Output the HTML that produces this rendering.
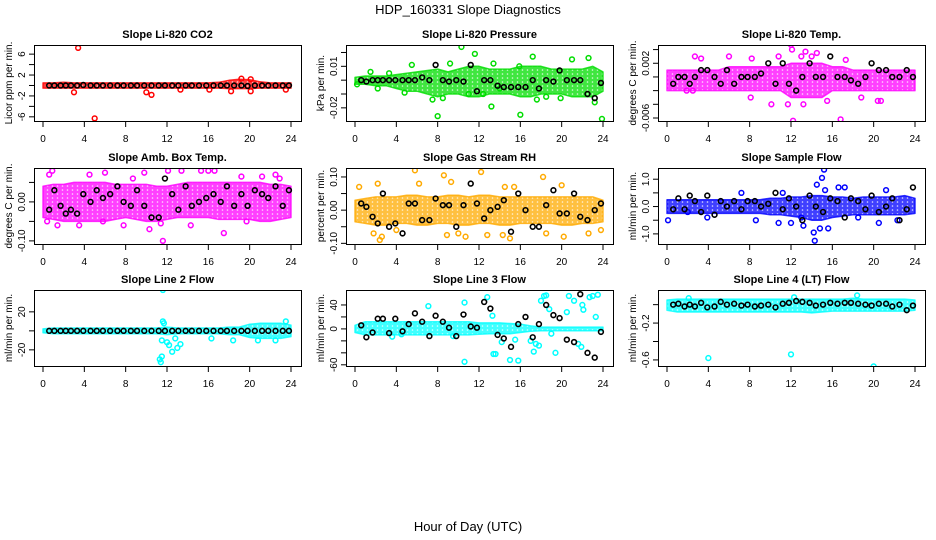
<!DOCTYPE html>
<html><head><meta charset="utf-8">
<style>
html,body{margin:0;padding:0;background:#fff;}
svg{display:block;font-family:"Liberation Sans",Arial,sans-serif;}
</style></head>
<body>
<svg id="chart" width="936" height="540" viewBox="0 0 936 540">
<text x="468" y="14" text-anchor="middle" font-size="13">HDP_160331  Slope Diagnostics</text>
<text x="468" y="531" text-anchor="middle" font-size="13">Hour of Day (UTC)</text>
</svg>
<script>
const hours = [0,1,2,3,4,5,6,7,8,9,10,11,12,13,14,15,16,17,18,19,20,21,22,23,24];
const xTicks = [0,4,8,12,16,20,24];
const blkX = [0.6,1.1,1.7,2.2,2.7,3.3,3.9,4.6,5.2,5.8,6.5,7.2,7.8,8.5,9.1,9.8,10.5,11.2,11.8,12.5,13.1,13.8,14.4,15.1,15.8,16.5,17.2,17.8,18.5,19.2,19.8,20.5,21.2,21.8,22.5,23.2,23.8];

// Panel 1: CO2
const p1BandLo = [-0.5,-0.5,-0.5,-0.5,-0.5,-0.5,-0.5,-0.5,-0.5,-0.5,-0.5,-0.5,-0.5,-0.5,-0.5,-0.5,-0.5,-0.5,-0.6,-0.6,-0.6,-0.5,-0.5,-0.5,-0.5];
const p1BandHi = [0.5,0.5,0.6,0.5,0.5,0.5,0.5,0.5,0.5,0.5,0.5,0.5,0.5,0.5,0.5,0.5,0.5,0.6,1.0,1.2,1.1,0.7,0.5,0.5,0.5];
const p1OutX = [3.4,5.0,3.0,10.0,10.5,18.2,20.1,19.2,20.1,23.5,16.1,13.3];
const p1OutY = [7.2,-6.3,-1.3,-1.3,-1.8,-1.1,-1.1,1.3,1.2,-0.8,-0.8,-0.8];
const p1Blk = [0,0,0,0,0,0,0.1,0,0,0,0,0,0,0,0,0,0,0,0,0,0,0,0,0,0,0,0,0,0,0,-0.1,0,0,0,0,0,0];
const p1YTicks = [-6,-4,-2,0,2,4,6];
const p1YLabels = ['-6','','-2','','2','','6'];

// Panel 2: Pressure
const p2BandLo = [-0.003,-0.003,-0.004,-0.004,-0.006,-0.008,-0.008,-0.01,-0.012,-0.01,-0.01,-0.012,-0.012,-0.01,-0.01,-0.01,-0.012,-0.012,-0.01,-0.01,-0.01,-0.012,-0.012,-0.012,-0.008];
const p2BandHi = [0.002,0.003,0.003,0.003,0.004,0.005,0.006,0.007,0.008,0.006,0.008,0.01,0.01,0.008,0.008,0.008,0.01,0.01,0.01,0.008,0.008,0.008,0.008,0.01,0.006];
const p2OutX = [0.2,1.5,2.2,3.3,4.8,5.5,7.5,8.0,8.5,9.2,10.3,11.0,11.6,12.4,13.2,13.4,14.0,15.9,16.0,17.2,17.6,18.5,19.9,21.0,22.6,23.2,23.9];
const p2OutY = [-0.003,0.006,-0.006,0.005,-0.009,0.011,-0.014,-0.026,-0.013,0.012,0.024,-0.01,0.019,-0.01,-0.019,0.012,-0.006,0.01,-0.025,0.017,-0.014,-0.012,-0.013,0.015,0.016,-0.016,-0.028];
const p2Blk = [0,-0.001,0,0,0,0,0,0,0,0,0.002,0,0.011,0,-0.001,0,-0.001,0.011,-0.008,0,0,-0.004,-0.005,-0.005,-0.005,-0.005,0,-0.006,0,-0.001,0.007,0,0,0,-0.01,-0.013,-0.002];
const p2YTicks = [-0.02,-0.01,0,0.01,0.02];
const p2YLabels = ['-0.02','','','0.01',''];

// Panel 3: Li-820 Temp
const p3BandLo = [-0.002,-0.002,-0.002,-0.002,-0.002,-0.002,-0.002,-0.002,-0.002,-0.002,-0.002,-0.002,-0.003,-0.003,-0.003,-0.003,-0.002,-0.002,-0.002,-0.002,-0.002,-0.002,-0.002,-0.002,-0.002];
const p3BandHi = [0.001,0.001,0.001,0.001,0.001,0.001,0.0015,0.0015,0.0015,0.0015,0.0015,0.0015,0.002,0.002,0.002,0.002,0.0015,0.0015,0.001,0.001,0.001,0.001,0.001,0.001,0.001];
const p3OutX = [2.7,3.3,2.5,1.9,8.2,8.1,10.1,10.8,11.7,12.0,12.1,12.2,13.0,13.2,13.4,14.5,15.5,16.8,17.3,18.8,20.4,20.7,6.0,14.0];
const p3OutY = [0.003,0.0027,-0.002,-0.002,0.0027,-0.003,-0.004,0.003,-0.004,0.0047,0.004,-0.0064,0.003,-0.004,0.0037,0.0035,-0.0035,-0.0062,0.0025,-0.003,-0.0035,-0.0035,0.003,0.003];
const p3Blk = [-0.001,0,0,-0.001,0,0.001,0.001,0,-0.001,0.001,-0.001,0,0,0,0.0005,0.002,-0.001,0.002,-0.001,-0.002,0,0.002,0,0,0.003,0,0,-0.0005,-0.001,0,0.002,0.001,0.001,0,0,0.001,0];
const p3YTicks = [-0.006,-0.004,-0.002,0,0.002,0.004];
const p3YLabels = ['-0.006','','','','0.002',''];

// Panel 4: Amb Box Temp
const p4BandLo = [-0.04,-0.045,-0.05,-0.05,-0.05,-0.05,-0.05,-0.045,-0.04,-0.045,-0.05,-0.05,-0.045,-0.04,-0.04,-0.04,-0.04,-0.045,-0.045,-0.045,-0.045,-0.05,-0.05,-0.045,-0.04];
const p4BandHi = [0.04,0.045,0.045,0.05,0.05,0.05,0.05,0.045,0.045,0.045,0.045,0.04,0.04,0.045,0.05,0.05,0.05,0.05,0.05,0.05,0.05,0.05,0.045,0.045,0.04];
const p4OutX = [0.6,0.9,1.4,4.5,6.0,7.8,8.7,9.8,10.3,11.6,11.4,13.4,14.3,15.3,16.0,16.6,17.5,19.2,19.7,21.2,22.5,22.9,0.4,3.5,5.8,12.1];
const p4OutY = [0.07,0.08,-0.06,0.07,0.075,-0.06,0.06,0.075,-0.07,-0.1,-0.055,0.08,-0.06,0.08,0.08,0.08,-0.08,0.065,-0.05,0.065,0.07,0.06,-0.05,-0.06,-0.05,0.08];
const p4Blk = [-0.02,0.03,-0.01,-0.03,-0.02,-0.03,0.02,0.00,0.03,0.01,0.02,0.04,0.0,-0.01,0.03,-0.01,-0.04,-0.04,0.06,0.02,-0.02,0.04,-0.01,0.0,0.01,0.02,0.0,0.04,-0.01,0.02,-0.01,0.03,0.02,0.01,0.04,-0.01,0.03];
const p4YTicks = [-0.1,-0.05,0,0.05];
const p4YLabels = ['-0.10','','0.00',''];

// Panel 5: Gas Stream RH
const p5BandLo = [-0.035,-0.04,-0.045,-0.045,-0.04,-0.04,-0.045,-0.045,-0.04,-0.04,-0.045,-0.045,-0.04,-0.04,-0.045,-0.045,-0.04,-0.04,-0.04,-0.04,-0.045,-0.045,-0.04,-0.04,-0.035];
const p5BandHi = [0.03,0.035,0.04,0.04,0.04,0.045,0.045,0.04,0.04,0.045,0.045,0.04,0.045,0.045,0.04,0.04,0.04,0.04,0.04,0.04,0.04,0.04,0.04,0.04,0.03];
const p5OutX = [0.4,1.8,2.2,2.4,2.6,4.0,5.8,6.2,8.6,8.9,10.0,10.7,12.2,12.8,14.3,15.0,15.4,18.2,18.5,20.0,20.2,22.6,23.8,9.3,14.5];
const p5OutY = [0.07,-0.07,0.08,-0.09,-0.08,-0.06,0.12,0.08,0.105,-0.075,-0.07,-0.08,0.115,-0.075,-0.075,-0.085,0.07,0.1,-0.07,0.075,-0.08,-0.07,-0.06,0.085,0.07];
const p5Blk = [0.02,0.01,-0.02,-0.04,0.05,-0.05,-0.04,-0.07,0.02,0.02,-0.03,-0.03,0.035,0.015,0.015,-0.05,0.015,0.08,0.02,-0.025,0.0,0.01,0.03,-0.065,0.05,0.0,-0.05,-0.05,0.015,0.06,-0.01,-0.01,0.05,-0.02,-0.03,0.0,0.02];
const p5YTicks = [-0.1,-0.05,0,0.05,0.1];
const p5YLabels = ['-0.10','','0.00','','0.10'];

// Panel 6: Sample Flow
const p6BandLo = [-0.25,-0.25,-0.25,-0.25,-0.25,-0.25,-0.25,-0.25,-0.25,-0.25,-0.3,-0.3,-0.35,-0.4,-0.5,-0.5,-0.4,-0.35,-0.3,-0.3,-0.3,-0.3,-0.3,-0.3,-0.25];
const p6BandHi = [0.25,0.25,0.25,0.25,0.25,0.25,0.25,0.25,0.25,0.25,0.3,0.3,0.35,0.35,0.4,0.4,0.35,0.35,0.3,0.35,0.35,0.35,0.35,0.4,0.3];
const p6OutX = [0.1,2.0,3.9,7.2,8.6,10.8,11.2,13.0,13.2,14.2,14.3,14.5,14.8,15.0,15.2,15.3,15.6,16.6,17.2,18.5,20.5,21.2,22.3,12.0];
const p6OutY = [-0.5,-0.2,-0.4,0.5,-0.5,-0.6,0.5,-0.4,-0.7,-0.95,-1.25,0.8,-0.8,1.05,1.35,0.6,-0.8,0.7,0.7,-0.4,-0.6,0.6,-0.5,-0.6];
const p6Blk = [-0.1,0.3,-0.1,0.4,0.2,-0.2,0.4,-0.3,0.2,0.0,0.2,-0.1,0.2,0.2,0.0,0.1,0.5,-0.1,0.3,0.0,-0.5,0.4,0.0,-0.2,0.3,0.2,-0.4,0.3,0.2,-0.1,0.4,-0.2,0.0,0.3,-0.5,-0.1,0.7];
const p6YTicks = [-1,-0.5,0,0.5,1];
const p6YLabels = ['-1.0','','0.0','','1.0'];

// Panel 7: Line 2 Flow
const p7BandLo = [-2,-3,-3,-3,-3,-3,-3,-3,-3,-3,-3,-3,-4,-3,-3,-3,-3,-3,-4,-4,-7,-8,-8,-8,-6];
const p7BandHi = [2,3,3,3,3,3,3,3,3,3,3,3,4,3,3,3,3,3,4,4,7,8,8,8,6];
const p7OutX = [11.3,11.4,11.5,11.6,11.7,12.0,12.2,12.5,12.8,13.0,13.3,11.5,11.6,18.4,20.8,22.5,23.5,16.3];
const p7OutY = [-30,-33,-27,43,8,-12,-15,-22,-8,-18,-14,-10,10,-10,-10,-10,10,-8];
const p7Blk = [0,0,0,0,0,0,0,0,0,0,0,0,0,0,0,0,0,0,0,0,0,0,0,0,0,0,0,0,0,0,0,0,0,0,0,0,0];
const p7YTicks = [-20,0,20];
const p7YLabels = ['-20','','20'];

// Panel 8: Line 3 Flow
const p8BandLo = [-6,-10,-10,-10,-10,-10,-10,-10,-10,-10,-10,-10,-9,-8,-8,-8,-6,-4,-3,-3,-3,-3,-3,-3,-3];
const p8BandHi = [6,12,12,12,12,12,12,12,12,12,12,12,10,10,10,9,8,5,3,3,3,3,3,3,3];
const p8OutX = [7.1,10.6,10.6,12.8,13.3,13.4,13.6,15.0,15.5,15.8,17.0,17.3,17.8,18.0,18.3,18.5,18.8,19.4,20.5,20.7,21.2,21.6,22.0,22.7,23.0,23.5,23.3,22.1,21.9,14.2,9.5,4.5,3.6,17.5,19.0];
const p8OutY = [38,-55,44,53,22,-42,-42,-52,-18,-53,-20,-38,-28,47,55,56,33,-40,28,55,47,-25,40,53,55,57,20,32,-30,-22,-12,-9,-13,-25,-8];
const p8Blk = [6,-14,-6,17,17,-7,17,-4,8,26,12,-12,22,12,2,-12,24,4,2,45,34,-10,-16,-30,8,20,-14,8,40,23,18,-18,-22,58,-40,-48,-5];
const p8YTicks = [-60,-40,-20,0,20,40];
const p8YLabels = ['-60','','','0','','40'];

// Panel 9: Line 4 (LT) Flow
const p9BandLo = [-0.06,-0.08,-0.08,-0.08,-0.08,-0.08,-0.08,-0.08,-0.08,-0.08,-0.08,-0.08,-0.08,-0.08,-0.09,-0.08,-0.07,-0.07,-0.07,-0.07,-0.07,-0.07,-0.07,-0.07,-0.06];
const p9BandHi = [0.05,0.06,0.06,0.06,0.06,0.06,0.06,0.06,0.06,0.06,0.06,0.06,0.06,0.06,0.06,0.06,0.06,0.06,0.07,0.06,0.06,0.06,0.06,0.06,0.05];
const p9OutX = [4.0,12.0,20.0,18.4,12.3,2.1];
const p9OutY = [-0.58,-0.54,-0.67,0.1,0.08,0.07];
const p9Blk = [0.0,0.01,-0.02,0.0,-0.02,0.02,-0.03,-0.02,0.03,0.0,0.01,-0.01,0.0,-0.02,-0.01,0.0,-0.03,0.01,0.02,0.04,0.03,0.02,-0.01,0.0,0.02,0.01,0.02,0.02,0.01,0.0,-0.01,0.01,0.01,-0.02,0.0,-0.06,-0.01];
const p9YTicks = [-0.6,-0.4,-0.2,0];
const p9YLabels = ['-0.6','','-0.2',''];

const NS = 'http://www.w3.org/2000/svg';
const svg = document.getElementById('chart');
function mk(tag, attrs, parent){
  const e = document.createElementNS(NS, tag);
  for (const k in attrs) e.setAttribute(k, attrs[k]);
  (parent||svg).appendChild(e);
  return e;
}
const colLeft = [34,346,658];
const rowTop = [45,168,290];
const W = 267, H = 76;

const defs = mk('defs', {});
const patIds = {};
function patternFor(col){
  if (patIds[col]) return patIds[col];
  const id = 'pat' + Object.keys(patIds).length;
  const pt = mk('pattern', {id:id, width:5, height:4, patternUnits:'userSpaceOnUse'}, defs);
  mk('rect', {x:0, y:0, width:5, height:4, fill:col, 'fill-opacity':'0.75'}, pt);
  mk('circle', {cx:2.5, cy:2, r:0.8, fill:'#fff', 'fill-opacity':'0.8'}, pt);
  patIds[col] = id;
  return id;
}

const panels = [
 {title:'Slope Li-820 CO2', ylab:'Licor ppm per min.', col:'#ff0000', ylim:[-6.8,7.75], lo:p1BandLo, hi:p1BandHi, ox:p1OutX, oy:p1OutY, bk:p1Blk, yt:p1YTicks, yl:p1YLabels, slug:'co2'},
 {title:'Slope Li-820 Pressure', ylab:'kPa per min.', col:'#00dd00', ylim:[-0.0295,0.0254], lo:p2BandLo, hi:p2BandHi, ox:p2OutX, oy:p2OutY, bk:p2Blk, yt:p2YTicks, yl:p2YLabels, slug:'pressure'},
 {title:'Slope Li-820 Temp.', ylab:'degrees C per min.', col:'#ff00ff', ylim:[-0.00644,0.00467], lo:p3BandLo, hi:p3BandHi, ox:p3OutX, oy:p3OutY, bk:p3Blk, yt:p3YTicks, yl:p3YLabels, slug:'li820-temp'},
 {title:'Slope Amb. Box Temp.', ylab:'degrees C per min.', col:'#ff00ff', ylim:[-0.108,0.087], lo:p4BandLo, hi:p4BandHi, ox:p4OutX, oy:p4OutY, bk:p4Blk, yt:p4YTicks, yl:p4YLabels, slug:'amb-box-temp'},
 {title:'Slope Gas Stream RH', ylab:'percent per min.', col:'#ffaa00', ylim:[-0.102,0.127], lo:p5BandLo, hi:p5BandHi, ox:p5OutX, oy:p5OutY, bk:p5Blk, yt:p5YTicks, yl:p5YLabels, slug:'gas-rh'},
 {title:'Slope Sample Flow', ylab:'ml/min per min.', col:'#0000ff', ylim:[-1.37,1.41], lo:p6BandLo, hi:p6BandHi, ox:p6OutX, oy:p6OutY, bk:p6Blk, yt:p6YTicks, yl:p6YLabels, slug:'sample-flow'},
 {title:'Slope Line 2 Flow', ylab:'ml/min per min.', col:'#00ffff', ylim:[-37,43], lo:p7BandLo, hi:p7BandHi, ox:p7OutX, oy:p7OutY, bk:p7Blk, yt:p7YTicks, yl:p7YLabels, slug:'line2-flow'},
 {title:'Slope Line 3 Flow', ylab:'ml/min per min.', col:'#00ffff', ylim:[-62,65], lo:p8BandLo, hi:p8BandHi, ox:p8OutX, oy:p8OutY, bk:p8Blk, yt:p8YTicks, yl:p8YLabels, slug:'line3-flow'},
 {title:'Slope Line 4 (LT) Flow', ylab:'ml/min per min.', col:'#00ffff', ylim:[-0.666,0.159], lo:p9BandLo, hi:p9BandHi, ox:p9OutX, oy:p9OutY, bk:p9Blk, yt:p9YTicks, yl:p9YLabels, slug:'line4-flow'}
];

panels.forEach((p, i) => {
  const L = colLeft[i%3], T = rowTop[Math.floor(i/3)];
  const g = mk('g', {});
  
  
  const sx = v => L + 9 + v/24*248;
  const sy = v => T + H - (v - p.ylim[0])/(p.ylim[1]-p.ylim[0])*H;
  const clip = 'clip' + i;
  const cp = mk('clipPath', {id:clip}, g);
  mk('rect', {x:L, y:T, width:W, height:H}, cp);
  const inner = mk('g', {'clip-path':'url(#'+clip+')'}, g);
  let d = '';
  hours.forEach((h,k)=>{ d += (k?'L':'M') + sx(h).toFixed(1) + ',' + sy(p.hi[k]).toFixed(1); });
  for (let k=hours.length-1;k>=0;k--) d += 'L' + sx(hours[k]).toFixed(1) + ',' + sy(p.lo[k]).toFixed(1);
  const pid = patternFor(p.col);
  const band = mk('path', {d:d+'Z', fill:'url(#'+pid+')', stroke:p.col, 'stroke-opacity':'0.8', 'stroke-width':'1.5', 'stroke-linejoin':'round'}, inner);
  
  
  p.ox.forEach((x,k)=>{
    const c = mk('circle', {cx:sx(x), cy:sy(p.oy[k]), r:2.4, fill:'none', stroke:p.col, 'stroke-width':1.5}, inner);
    
    
  });
  blkX.forEach((x,k)=>{
    const c = mk('circle', {cx:sx(x), cy:sy(p.bk[k]), r:2.4, fill:'none', stroke:'#000', 'stroke-width':1.6}, inner);
    
    
  });
  const box = mk('rect', {x:L+0.5, y:T+0.5, width:W, height:H, fill:'none', stroke:'#000', 'stroke-width':1}, g);
  
  
  const t = mk('text', {x:L+W/2, y:T-7, 'text-anchor':'middle', 'font-size':'11', 'font-weight':'bold'}, g);
  t.textContent = p.title;
  
  
  xTicks.forEach(v=>{
    mk('line', {x1:sx(v), x2:sx(v), y1:T+H+1, y2:T+H+6, stroke:'#000'}, g);
    const lt = mk('text', {x:sx(v), y:T+H+21, 'text-anchor':'middle', 'font-size':'10'}, g);
    lt.textContent = String(v);
    
    
  });
  p.yt.forEach((v,k)=>{
    mk('line', {x1:L, x2:L-5, y1:sy(v), y2:sy(v), stroke:'#000'}, g);
    if (p.yl[k]) {
      const lt = mk('text', {x:L-9, y:sy(v), 'text-anchor':'middle', 'font-size':'10', transform:'rotate(-90 '+(L-9)+' '+sy(v)+')'}, g);
      lt.textContent = p.yl[k];
      
      
    }
  });
  const yt = mk('text', {x:L-22, y:T+H/2, 'text-anchor':'middle', 'font-size':'10', transform:'rotate(-90 '+(L-22)+' '+(T+H/2)+')'}, g);
  yt.textContent = p.ylab;
  
  
});
</script>
</body></html>
